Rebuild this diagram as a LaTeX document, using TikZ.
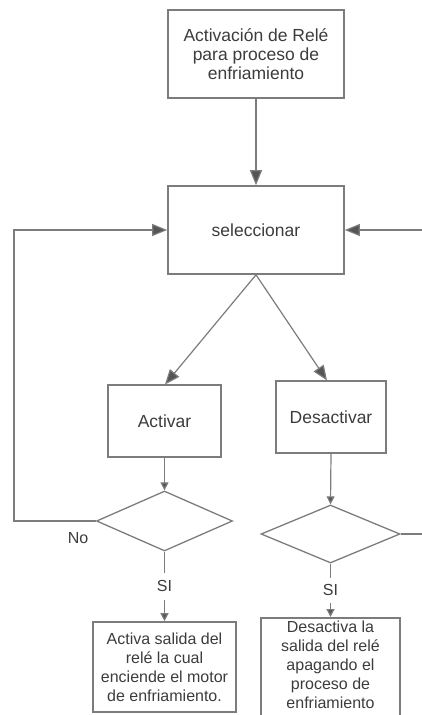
\documentclass[tikz,border=0pt]{standalone}
\usepackage{fontspec}
\setmainfont{Liberation Sans}
\usetikzlibrary{shapes.geometric,arrows.meta}
\definecolor{edge}{HTML}{7C7C7C}
\definecolor{ink}{HTML}{3C3C3C}
\definecolor{tip}{HTML}{555555}
\begin{document}
\begin{tikzpicture}[x=1pt,y=-1pt,
  font=\fontsize{16}{19}\selectfont,
  box/.style={draw=edge, line width=1.6pt, rectangle, inner sep=0pt,
    text=ink, align=center},
  bigtext/.style={font=\fontsize{17.5}{19}\selectfont},
  choice/.style={draw=edge, line width=1.3pt, diamond, inner sep=0pt},
  flow/.style={draw=edge, line width=1.2pt},
  bigtip/.style={flow, -{Triangle[length=15pt,width=12pt,fill=tip]}},
  smalltip/.style={flow, -{Triangle[length=8pt,width=8pt,fill=tip]}},
  lbl/.style={text=ink, fill=white, inner xsep=2pt}]
\useasboundingbox (0,0) rectangle (422,715);
\begin{scope}
\clip (0,0) rectangle (422,715);
% process boxes
\node[box, bigtext, minimum width=176pt, minimum height=88pt] (start) at (256,54)
  {Activación de Relé\\para proceso de\\enfriamiento};
\node[box, bigtext, minimum width=176pt, minimum height=88pt] (sel) at (256,230)
  {seleccionar};
\node[box, bigtext, minimum width=113pt, minimum height=72pt] (act) at (164.5,421)
  {Activar};
\node[box, bigtext, minimum width=110pt, minimum height=72pt] (des) at (331,417)
  {Desactivar};
% decisions
\node[choice, minimum width=136pt, minimum height=60pt] (d1) at (164.5,521) {};
\node[choice, minimum width=139pt, minimum height=58pt] (d2) at (330.5,534) {};
% outputs
\node[box, minimum width=143pt, minimum height=90pt] (out1) at (164.5,667)
  {Activa salida del\\relé la cual\\enciende el motor\\de enfriamiento.};
\node[box, minimum width=139pt, minimum height=112pt, anchor=north] (out2) at (330.5,617) {};
\node[text=ink, align=center, anchor=north] (out2txt) at (330.5,617.5)
  {Desactiva la\\salida del relé\\apagando el\\proceso de\\enfriamiento};
% external input on the right
\coordinate (ext) at (423,230);
\coordinate (extout) at (423,534);
\coordinate (loopbot) at (14,521);
\coordinate (looptop) at (14,230);
% connectors
\draw[bigtip] (start.south) -- (sel.north);
\draw[bigtip] (sel.south) -- (165,384.5);
\draw[bigtip] (sel.south) -- (327,380.5);
\draw[smalltip] (act.south) -- (d1.north);
\draw[smalltip] (des.south) -- (d2.north);
\draw[bigtip] (d1.west) -- (loopbot) -- (looptop) -- (sel.west);
\draw[bigtip] (ext) -- (sel.east);
\draw[flow] (d2.east) -- (extout);
\draw[smalltip] (d1.south) -- node[lbl, inner ysep=8pt] (si1) {SI} (out1.north);
\draw[smalltip] (d2.south) -- node[lbl, inner ysep=7pt] (si2) {SI} (out2.north);
\node[text=ink] (no) at (78,538) {No};
\end{scope}
\end{tikzpicture}
\end{document}
